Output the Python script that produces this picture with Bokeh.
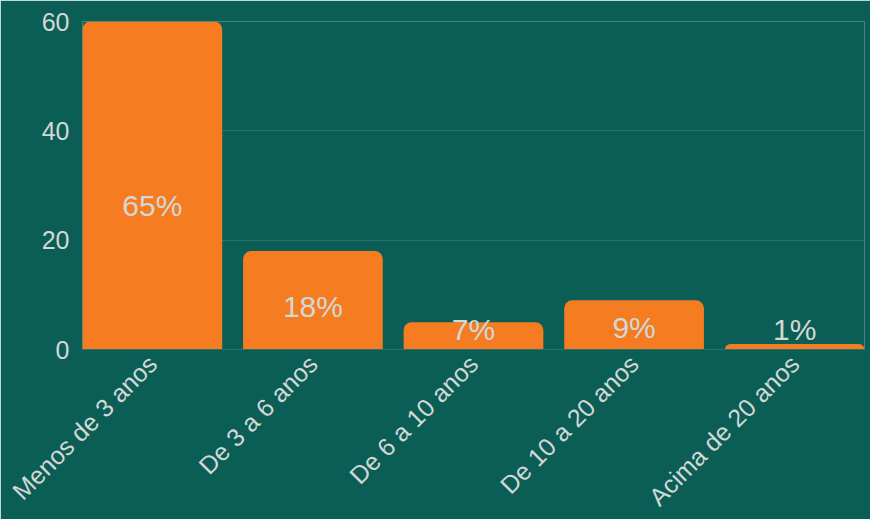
from bokeh.plotting import figure
from bokeh.models import ColumnDataSource, FixedTicker, Range1d
from bokeh.core.properties import value
from bokeh.embed import file_html
from bokeh.resources import INLINE
import math

categories = ["Menos de 3 anos", "De 3 a 6 anos", "De 6 a 10 anos", "De 10 a 20 anos", "Acima de 20 anos"]
counts = [60, 18, 5, 9, 1]
pct_labels = ["65%", "18%", "7%", "9%", "1%"]
y_ticks = [0, 20, 40, 60]

BG = "#0b5e55"
BAR = "#f57c21"
TXT = "#d3d8d6"
GRID = "#2c7168"
FONT = "Liberation Sans"

bar_w = 0.87
xs = list(range(len(categories)))
label_y = [max(c * 0.44, 3.6) for c in counts]

src = ColumnDataSource(dict(x=xs, top=counts, lab=pct_labels, ly=label_y))

p = figure(frame_width=782, frame_height=328, output_backend="svg", toolbar_location=None,
           x_range=Range1d(-bar_w / 2, len(categories) - 1 + bar_w / 2),
           y_range=Range1d(0, 60),
           min_border_left=82, min_border_right=6, min_border_top=21, min_border_bottom=4)
p.background_fill_color = BG
p.border_fill_color = BG
p.outline_line_color = None

p.vbar(x="x", top="top", width=bar_w, source=src, fill_color=BAR, line_color=None,
       border_radius=(8, 8, 0, 0))
p.text(x="x", y="ly", text="lab", source=src, text_align="center", text_baseline="middle",
       text_color=TXT, text_font=value(FONT), text_font_size="30px")

p.xaxis.ticker = FixedTicker(ticks=xs)
p.xaxis.major_label_overrides = {i: c for i, c in enumerate(categories)}
p.xaxis.major_label_orientation = math.pi / 4
p.yaxis.ticker = FixedTicker(ticks=y_ticks)

for ax in (p.xaxis, p.yaxis):
    ax.major_label_text_color = TXT
    ax.major_label_text_font = FONT
    ax.major_tick_line_color = None
    ax.minor_tick_line_color = None
p.xaxis.major_label_text_font_size = "25px"
p.yaxis.major_label_text_font_size = "25px"
p.xaxis.axis_line_color = GRID
p.yaxis.axis_line_color = None
p.yaxis.major_label_standoff = 7
p.xaxis.major_label_standoff = 4

p.xgrid.grid_line_color = None
p.ygrid.grid_line_color = GRID
p.ygrid.grid_line_width = 1

open("out.html", "w").write(file_html(p, INLINE))
